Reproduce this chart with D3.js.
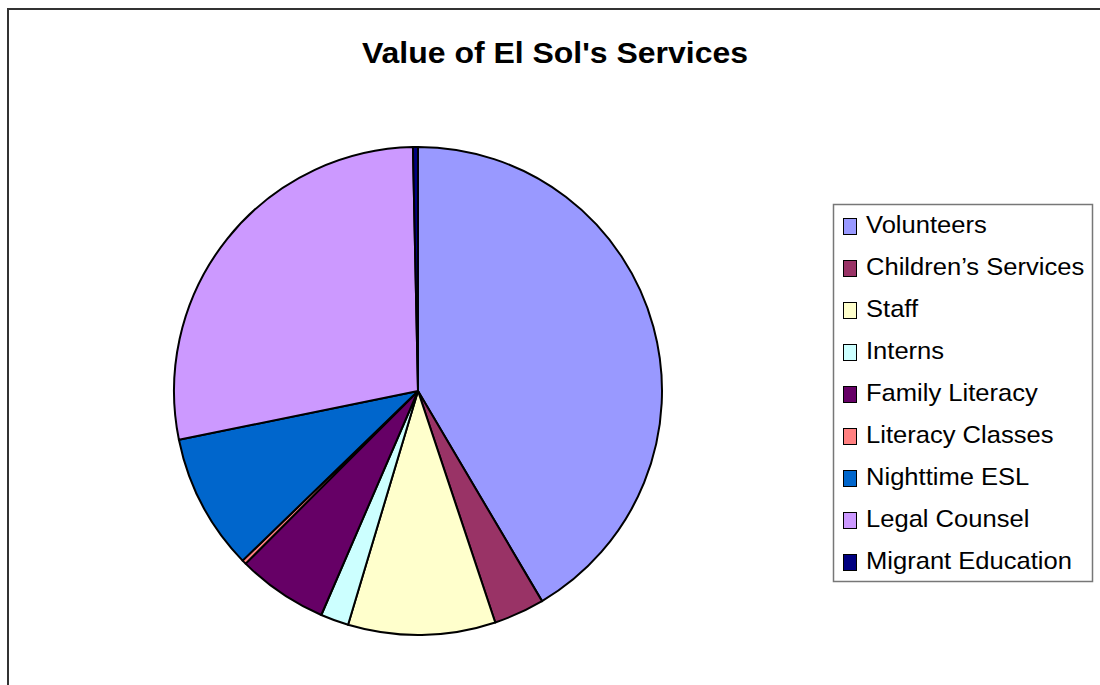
<!DOCTYPE html>
<html>
<head>
<meta charset="utf-8">
<script src="https://cdn.jsdelivr.net/npm/d3@7"></script>
<style>
    body { margin: 0; background: #fff; }
    svg { display: block; font-family: "Liberation Sans", Arial, sans-serif; }
</style>
</head>
<body>
<div id="chart"></div>
<script>
// values (percent of total)
const categories = ['Volunteers', 'Children\u2019s Services', 'Staff', 'Interns', 'Family Literacy',
    'Literacy Classes', 'Nighttime ESL', 'Legal Counsel', 'Migrant Education'];
const values = [41.5, 3.36, 9.75, 1.86, 6.0, 0.28, 9.03, 27.86, 0.33];
const colors = ['#9999FF', '#993366', '#FFFFCC', '#CCFFFF', '#660066',
    '#FF8080', '#0066CC', '#CC99FF', '#000080'];

const svgWidth = 1100;
const svgHeight = 685;

const svg = d3.select('#chart').append('svg')
    .attr('width', svgWidth)
    .attr('height', svgHeight);

// chart frame (runs off right and bottom edges)
svg.append('path')
    .attr('d', `M8,${svgHeight + 5} L8,9 L${svgWidth + 5},9`)
    .attr('fill', 'none')
    .attr('stroke', '#333')
    .attr('stroke-width', 2);

svg.append('text')
    .attr('x', 555)
    .attr('y', 63)
    .attr('text-anchor', 'middle')
    .attr('textLength', 386)
    .attr('lengthAdjust', 'spacingAndGlyphs')
    .style('font-size', '30px')
    .style('font-weight', 'bold')
    .text("Value of El Sol's Services");

// ===== Pie =====
const cx = 418, cy = 391, radius = 244;
const pie = d3.pie().sort(null).value(d => d.value);
const arc = d3.arc().innerRadius(0).outerRadius(radius);
const data = categories.map((c, i) => ({name: c, value: values[i], color: colors[i]}));

const gPie = svg.append('g').attr('transform', `translate(${cx},${cy})`);
gPie.selectAll('path')
    .data(pie(data))
    .enter()
    .append('path')
    .attr('d', arc)
    .attr('fill', d => d.data.color)
    .attr('stroke', '#000')
    .attr('stroke-width', 2)
    .attr('stroke-linejoin', 'round');

// ===== Legend =====
const gLegend = svg.append('g');
gLegend.append('rect')
    .attr('x', 833.5)
    .attr('y', 204.5)
    .attr('width', 259)
    .attr('height', 377)
    .attr('fill', '#fff')
    .attr('stroke', '#777')
    .attr('stroke-width', 1.5);

const yLegend = d3.scalePoint().domain(categories).range([226, 562]);

const items = gLegend.selectAll('g.item')
    .data(data)
    .enter()
    .append('g')
    .attr('class', 'item')
    .attr('transform', d => `translate(0,${yLegend(d.name)})`);

items.append('rect')
    .attr('x', 843.5)
    .attr('y', -7.5)
    .attr('width', 13)
    .attr('height', 16)
    .attr('fill', d => d.color)
    .attr('stroke', '#000')
    .attr('stroke-width', 1);

// text in the reference is a bit wider than the font's natural width
items.append('text')
    .attr('transform', 'translate(866,6.5) scale(1.065,1)')
    .style('font-size', '24px')
    .text(d => d.name);
</script>
</body>
</html>
